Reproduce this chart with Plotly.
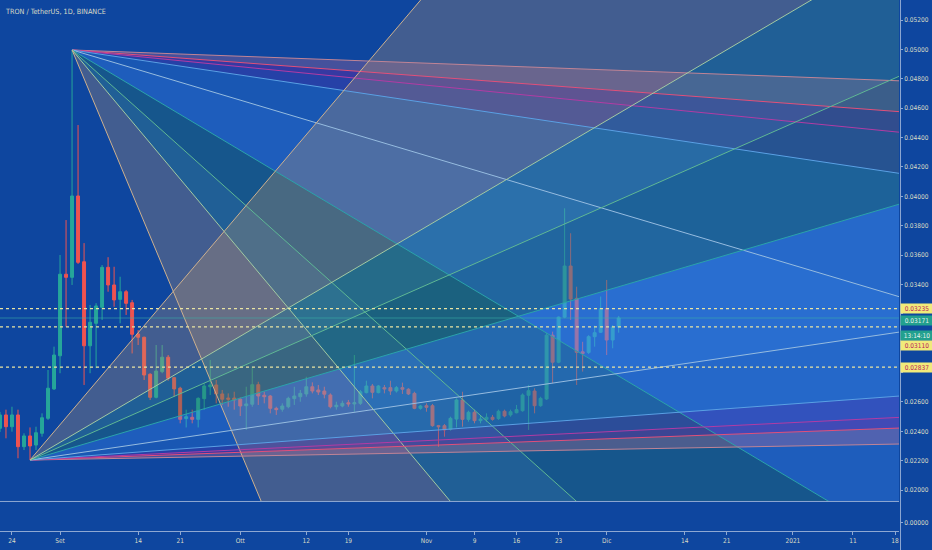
import pandas as pd
import plotly.graph_objects as go

# ---------------- data ----------------
dates = pd.date_range("2020-08-22", "2020-12-03", freq="D")

opens = [0.02420, 0.02511, 0.02431, 0.02511, 0.02295, 0.02368, 0.02306, 0.02386, 0.02488, 0.02688,
         0.02914, 0.03469, 0.03448, 0.04002, 0.03554, 0.02982, 0.03135, 0.03244, 0.03516, 0.03396,
         0.03298, 0.03350, 0.03275, 0.03062, 0.03040, 0.02788, 0.02631, 0.02806, 0.02904, 0.02765,
         0.02693, 0.02486, 0.02495, 0.02481, 0.02622, 0.02703, 0.02715, 0.02654, 0.02626, 0.02626,
         0.02618, 0.02574, 0.02584, 0.02717, 0.02645, 0.02640, 0.02556, 0.02550, 0.02567, 0.02622,
         0.02635, 0.02654, 0.02703, 0.02681, 0.02674, 0.02647, 0.02567, 0.02572, 0.02594, 0.02586,
         0.02590, 0.02663, 0.02708, 0.02663, 0.02697, 0.02697, 0.02674, 0.02697, 0.02686, 0.02658,
         0.02556, 0.02574, 0.02574, 0.02438, 0.02438, 0.02413, 0.02483, 0.02613, 0.02481, 0.02529,
         0.02472, 0.02481, 0.02495, 0.02486, 0.02536, 0.02511, 0.02526, 0.02540, 0.02645, 0.02674,
         0.02574, 0.02620, 0.03054, 0.02870, 0.03177, 0.03525, 0.03305, 0.02941, 0.02937, 0.03044,
         0.03074, 0.03235, 0.03021, 0.03110]
highs = [0.02531, 0.02547, 0.02567, 0.02547, 0.02386, 0.02426, 0.02431, 0.02522, 0.02817, 0.02976,
         0.03600, 0.03838, 0.04996, 0.04485, 0.03681, 0.03260, 0.03272, 0.03532, 0.03585, 0.03520,
         0.03452, 0.03362, 0.03294, 0.03089, 0.03044, 0.02795, 0.02987, 0.02987, 0.02919, 0.02771,
         0.02703, 0.02547, 0.02547, 0.02631, 0.02727, 0.02885, 0.02749, 0.02681, 0.02658, 0.02669,
         0.02631, 0.02703, 0.02840, 0.02737, 0.02669, 0.02647, 0.02567, 0.02590, 0.02635, 0.02703,
         0.02681, 0.02771, 0.02733, 0.02715, 0.02703, 0.02658, 0.02601, 0.02608, 0.02613, 0.02919,
         0.02681, 0.02744, 0.02722, 0.02715, 0.02715, 0.02744, 0.02708, 0.02731, 0.02693, 0.02669,
         0.02579, 0.02590, 0.02586, 0.02443, 0.02449, 0.02499, 0.02624, 0.02669, 0.02540, 0.02547,
         0.02511, 0.02522, 0.02511, 0.02547, 0.02547, 0.02547, 0.02579, 0.02658, 0.02715, 0.02693,
         0.02635, 0.03069, 0.03078, 0.03181, 0.03918, 0.03748, 0.03384, 0.03009, 0.03054, 0.03119,
         0.03317, 0.03430, 0.03123, 0.03185]
lows = [0.02395, 0.02352, 0.02397, 0.02216, 0.02272, 0.02204, 0.02272, 0.02363, 0.02477, 0.02681,
        0.02795, 0.03112, 0.03396, 0.03539, 0.02715, 0.02795, 0.02829, 0.03158, 0.03350, 0.03248,
        0.03135, 0.03192, 0.02930, 0.02987, 0.02749, 0.02613, 0.02624, 0.02795, 0.02744, 0.02635,
        0.02454, 0.02426, 0.02454, 0.02426, 0.02547, 0.02647, 0.02590, 0.02579, 0.02567, 0.02547,
        0.02504, 0.02409, 0.02567, 0.02579, 0.02590, 0.02522, 0.02511, 0.02533, 0.02556, 0.02579,
        0.02601, 0.02635, 0.02658, 0.02647, 0.02624, 0.02556, 0.02547, 0.02563, 0.02567, 0.02533,
        0.02579, 0.02658, 0.02624, 0.02658, 0.02658, 0.02647, 0.02663, 0.02654, 0.02647, 0.02550,
        0.02547, 0.02533, 0.02431, 0.02295, 0.02363, 0.02404, 0.02426, 0.02431, 0.02465, 0.02454,
        0.02454, 0.02465, 0.02472, 0.02477, 0.02495, 0.02499, 0.02522, 0.02533, 0.02409, 0.02522,
        0.02567, 0.02613, 0.02727, 0.02863, 0.03170, 0.03158, 0.02715, 0.02806, 0.02926, 0.02976,
        0.03069, 0.02919, 0.02965, 0.03071]
closes = [0.02511, 0.02431, 0.02511, 0.02295, 0.02368, 0.02300, 0.02390, 0.02492, 0.02693, 0.02919,
          0.03469, 0.03448, 0.04002, 0.03550, 0.02982, 0.03142, 0.03253, 0.03516, 0.03396, 0.03294,
          0.03350, 0.03271, 0.03060, 0.03040, 0.02783, 0.02631, 0.02810, 0.02904, 0.02761, 0.02688,
          0.02481, 0.02499, 0.02481, 0.02624, 0.02708, 0.02715, 0.02654, 0.02618, 0.02618, 0.02613,
          0.02572, 0.02586, 0.02717, 0.02640, 0.02635, 0.02556, 0.02547, 0.02572, 0.02624, 0.02640,
          0.02658, 0.02703, 0.02674, 0.02667, 0.02652, 0.02567, 0.02577, 0.02590, 0.02586, 0.02594,
          0.02669, 0.02708, 0.02665, 0.02708, 0.02688, 0.02674, 0.02697, 0.02686, 0.02654, 0.02556,
          0.02572, 0.02563, 0.02438, 0.02431, 0.02409, 0.02488, 0.02613, 0.02481, 0.02529, 0.02472,
          0.02483, 0.02495, 0.02481, 0.02536, 0.02504, 0.02533, 0.02547, 0.02647, 0.02676, 0.02574,
          0.02624, 0.03054, 0.02870, 0.03177, 0.03525, 0.03300, 0.02937, 0.02930, 0.03044, 0.03071,
          0.03235, 0.03021, 0.03110, 0.03171]

# Gann fans (origin + 1x1 slope in price per day)
fan_levels = [1 / 8, 1 / 4, 1 / 3, 1 / 2, 1, 2, 3, 4, 8]
fan_a_origin_date = "2020-09-03"
fan_a_origin_price = 0.04996
fan_a_unit_slope = -0.0001220
fan_b_origin_date = "2020-08-27"
fan_b_origin_price = 0.02204
fan_b_unit_slope = 0.0000602
fan_ray_end = "2021-03-15"

# horizontal levels
dotted_levels = [0.03235, 0.03110, 0.02837]
last_price = 0.03171
countdown_text = "13:14:10"

price_ticks = [0.020, 0.022, 0.024, 0.026, 0.028, 0.030, 0.032, 0.034, 0.036,
               0.038, 0.040, 0.042, 0.044, 0.046, 0.048, 0.050, 0.052]
hidden_price_ticks = [0.028, 0.030, 0.032]   # covered by the price labels in the chart
x_tick_dates = ["2020-08-24", "2020-09-01", "2020-09-14", "2020-09-21", "2020-10-01", "2020-10-12",
                "2020-10-19", "2020-11-01", "2020-11-09", "2020-11-16", "2020-11-23", "2020-12-01",
                "2020-12-14", "2020-12-21", "2021-01-01", "2021-01-11", "2021-01-18"]
x_tick_text = ["24", "Set", "14", "21", "Ott", "12", "19", "Nov", "9", "16", "23", "Dic",
               "14", "21", "2021", "11", "18"]

# ---------------- style ----------------
BG = "#0e469f"
TXT = "#d9dcc6"
AXLINE = "#8ea8d2"
FONT = "DejaVu Sans Condensed, Liberation Sans, Arial, sans-serif"
UP, DOWN = "#26a69a", "#ef5350"

line_colors = ["#c08496", "#e2507a", "#b23ca4", "#5aa0e4", "#96bce0",
               "#2ba3aa", "#5fb894", "#a2caa2", "#cdb08e"]
band_colors = ["rgba(200,110,150,0.30)", "rgba(150,30,170,0.30)", "rgba(110,50,190,0.25)",
               "rgba(60,140,240,0.25)", "rgba(70,150,255,0.30)", "rgba(40,120,100,0.32)",
               "rgba(80,160,130,0.28)", "rgba(190,150,110,0.30)"]

fig = go.Figure()

fig.add_trace(go.Candlestick(
    x=dates, open=opens, high=highs, low=lows, close=closes,
    increasing=dict(line=dict(color=UP, width=1), fillcolor=UP),
    decreasing=dict(line=dict(color=DOWN, width=1), fillcolor=DOWN),
    whiskerwidth=0, showlegend=False, hoverinfo="skip"))

# empty lower pane (keeps the time axis at the bottom)
fig.add_trace(go.Scatter(x=[dates[0]], y=[None], yaxis="y2", mode="markers",
                         showlegend=False, hoverinfo="skip"))


def fan_rays(origin_date, origin_price, unit_slope):
    o = pd.Timestamp(origin_date)
    e = pd.Timestamp(fan_ray_end)
    days = (e - o).total_seconds() / 86400.0
    return o, e, [origin_price + unit_slope * lv * days for lv in fan_levels]


fans = [(fan_a_origin_date, fan_a_origin_price, fan_a_unit_slope),
        (fan_b_origin_date, fan_b_origin_price, fan_b_unit_slope)]
for od, op, us in fans:
    o, e, ends = fan_rays(od, op, us)
    for i in range(len(fan_levels) - 1):
        fig.add_trace(go.Scatter(
            x=[o, e, e, o], y=[op, ends[i], ends[i + 1], op], mode="lines",
            fill="toself", fillcolor=band_colors[i], line=dict(width=0),
            showlegend=False, hoverinfo="skip"))
for od, op, us in fans:
    o, e, ends = fan_rays(od, op, us)
    for i, lv in enumerate(fan_levels):
        fig.add_trace(go.Scatter(
            x=[o, e], y=[op, ends[i]], mode="lines",
            line=dict(color=line_colors[i], width=1),
            showlegend=False, hoverinfo="skip"))

# horizontal lines
for lv in dotted_levels:
    fig.add_shape(type="line", xref="paper", x0=0, x1=1, yref="y", y0=lv, y1=lv,
                  line=dict(color="#e9e4a2", width=1.2, dash="dot"))
fig.add_shape(type="line", xref="paper", x0=0, x1=1, yref="y", y0=last_price, y1=last_price,
              line=dict(color="rgba(60,180,170,0.55)", width=1))

# pane separator, price-axis line
fig.add_shape(type="line", xref="paper", x0=0, x1=1, yref="paper", y0=0.0556, y1=0.0556,
              line=dict(color=AXLINE, width=1))
fig.add_shape(type="line", xref="paper", x0=1.0017, x1=1.0017, yref="paper", y0=-0.036, y1=1,
              layer="below", line=dict(color=AXLINE, width=1))

# price labels on the axis
YEL, YEL_TXT = "#f1ea7a", "#b8195a"
labels = [(dotted_levels[0], f"{dotted_levels[0]:.5f}", YEL, YEL_TXT, 0),
          (last_price, f"{last_price:.5f}", "#22a08e", "#e6f2ee", -2),
          (last_price, countdown_text, "#22a08e", "#e6f2ee", -17),
          (dotted_levels[1], f"{dotted_levels[1]:.5f}", YEL, YEL_TXT, -19),
          (dotted_levels[2], f"{dotted_levels[2]:.5f}", YEL, YEL_TXT, 0)]
for yv, txt, bg, fc, ys in labels:
    fig.add_annotation(xref="paper", x=1, xanchor="left", xshift=1, yref="y", y=yv,
                       yanchor="middle", yshift=ys, text=txt, showarrow=False,
                       bgcolor=bg, width=32, height=9, borderpad=0,
                       font=dict(family=FONT, size=6.5, color=fc))

fig.add_annotation(xref="paper", x=0, xanchor="left", xshift=3, yref="paper", y=1,
                   yanchor="middle", yshift=-11, text="TRON / TetherUS, 1D, BINANCE",
                   showarrow=False, font=dict(family=FONT, size=7.2, color=TXT))

price_tick_text = ["" if any(abs(v - h) < 1e-9 for h in hidden_price_ticks) else f"{v:.5f}"
                   for v in price_ticks]

fig.update_layout(
    width=932, height=550,
    margin=dict(l=0, r=33, t=0, b=19, pad=0),
    paper_bgcolor=BG, plot_bgcolor=BG,
    showlegend=False,
    font=dict(family=FONT, size=6.5, color=TXT),
    boxgap=0.3,
    xaxis=dict(type="date", range=["2020-08-22 00:07", "2021-01-18 16:00"],
               rangeslider=dict(visible=False), anchor="y2",
               tickvals=x_tick_dates, ticktext=x_tick_text, tickangle=0,
               ticks="outside", ticklen=3, tickcolor=AXLINE,
               showline=True, linecolor=AXLINE, linewidth=1,
               showgrid=False, zeroline=False, automargin=False,
               ticklabeloverflow="allow",
               tickfont=dict(family=FONT, size=6.5, color=TXT)),
    yaxis=dict(domain=[0.0565, 1], range=[0.019251, 0.053362], side="right", anchor="x",
               tickvals=price_ticks, ticktext=price_tick_text,
               ticks="outside", ticklen=3, tickcolor=AXLINE, automargin=False,
               showgrid=False, zeroline=False, showline=False,
               tickfont=dict(family=FONT, size=6.5, color=TXT)),
    yaxis2=dict(domain=[0, 0.0546], range=[-0.276, 0.724], side="right", anchor="x",
                tickvals=[0], ticktext=["0.00000"], ticks="outside", ticklen=3,
                tickcolor=AXLINE, showgrid=False, zeroline=False, showline=False,
                automargin=False, tickfont=dict(family=FONT, size=6.5, color=TXT)),
)

fig.write_html("out.html", config={"displayModeBar": False},
               post_script="document.body.style.margin='0px';"
                           "document.body.style.overflow='hidden';")
